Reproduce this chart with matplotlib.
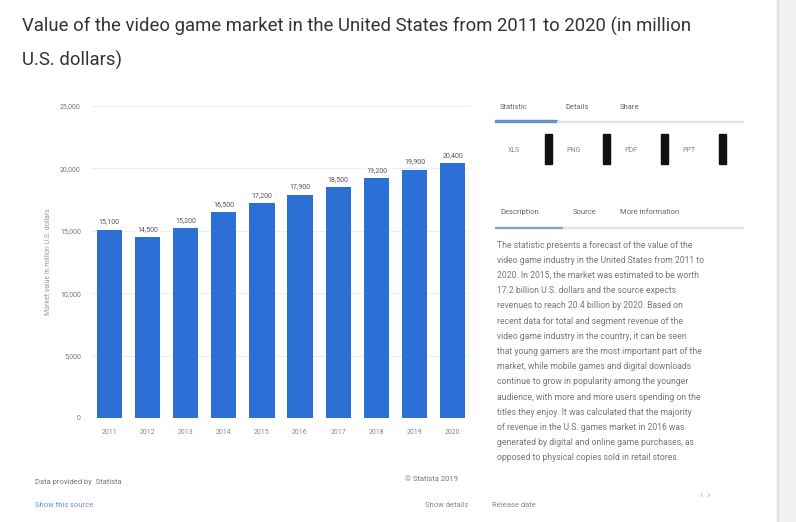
import matplotlib.pyplot as plt
from matplotlib.patches import Rectangle

years = ['2011', '2012', '2013', '2014', '2015', '2016', '2017', '2018', '2019', '2020']
values = [15100, 14500, 15200, 16500, 17200, 17900, 18500, 19200, 19900, 20400]
yticks = [0, 5000, 10000, 15000, 20000, 25000]

title = ("Value of the video game market in the United States from 2011 to 2020 (in million\n"
         "U.S. dollars)")
description = [
    "The statistic presents a forecast of the value of the",
    "video game industry in the United States from 2011 to",
    "2020. In 2015, the market was estimated to be worth",
    "17.2 billion U.S. dollars and the source expects",
    "revenues to reach 20.4 billion by 2020. Based on",
    "recent data for total and segment revenue of the",
    "video game industry in the country, it can be seen",
    "that young gamers are the most important part of the",
    "market, while mobile games and digital downloads",
    "continue to grow in popularity among the younger",
    "audience, with more and more users spending on the",
    "titles they enjoy. It was calculated that the majority",
    "of revenue in the U.S. games market in 2016 was",
    "generated by digital and online game purchases, as",
    "opposed to physical copies sold in retail stores.",
]

fig = plt.figure(figsize=(7.96, 5.22), dpi=100)
plt.rcParams['font.family'] = ['Roboto', 'DejaVu Sans']

# title
fig.text(22 / 796, 1 - 17 / 522, title, fontsize=13.3, color='#333333',
         va='top', ha='left', linespacing=1.95)

# chart
ax = fig.add_axes([92 / 796, 1 - 418 / 522, 378 / 796, 312 / 522])
ax.bar(range(len(years)), values, width=0.66, color='#2c70d5', zorder=3)
for i, v in enumerate(values):
    ax.text(i, v + 350, f"{v:,}", ha='center', va='bottom', fontsize=5,
            color='#555555', zorder=4,
            bbox=dict(boxstyle='square,pad=0.25', fc='white', ec='none'))
ax.set_xlim(-0.45, len(years) - 0.55)
ax.set_ylim(0, 25000)
ax.set_yticks(yticks)
ax.set_yticklabels([f"{t:,}" for t in yticks], fontsize=5, color='#777777')
ax.set_xticks(range(len(years)))
ax.set_xticklabels(years, fontsize=5, color='#888888')
ax.tick_params(length=0, pad=8)
ax.yaxis.grid(True, color='#eeeeee', lw=0.8, zorder=0)
for s in ax.spines.values():
    s.set_visible(False)
ax.set_ylabel("Market value in million U.S. dollars", fontsize=5, color='#999999',
              labelpad=6)

# right panel
def ft(x, y, s, **kw):
    fig.text(x / 796, 1 - y / 522, s, va='center', **kw)

ft(500, 107, "Statistic", fontsize=5.5, color='#666666')
ft(565, 107, "Details", fontsize=5.5, color='#666666')
ft(620, 107, "Share", fontsize=5.5, color='#666666')
fig.add_artist(Rectangle((495 / 796, 1 - 122 / 522), 62 / 796, 1.5 / 522,
                         transform=fig.transFigure, color='#6b8fc9'))
fig.add_artist(Rectangle((557 / 796, 1 - 121.5 / 522), 186 / 796, 0.8 / 522,
                         transform=fig.transFigure, color='#e3e3e3'))
for i, lab in enumerate(["XLS", "PNG", "PDF", "PPT"]):
    x0 = 505 + i * 58
    ft(x0 + 3, 150, lab, fontsize=5, color='#888888')
    fig.add_artist(Rectangle(((x0 + 40) / 796, 1 - 164 / 522), 7 / 796, 30 / 522,
                             transform=fig.transFigure, color='#111111'))

ft(500, 212, "Description", fontsize=5.5, color='#666666')
ft(573, 212, "Source", fontsize=5.5, color='#666666')
ft(620, 212, "More information", fontsize=5.5, color='#666666')
fig.add_artist(Rectangle((495 / 796, 1 - 228 / 522), 68 / 796, 1.5 / 522,
                         transform=fig.transFigure, color='#8aa1c9'))
fig.add_artist(Rectangle((563 / 796, 1 - 227.5 / 522), 180 / 796, 0.8 / 522,
                         transform=fig.transFigure, color='#e3e3e3'))
for i, line in enumerate(description):
    ft(497, 245 + i * 15.2, line, fontsize=6.2, color='#777777')

# footer
ft(35, 482, "Data provided by  Statista", fontsize=5.5, color='#777777')
ft(35, 505, "Show this source", fontsize=5.5, color='#6b8fc9')
ft(405, 479, "\u00a9 Statista 2019", fontsize=5.5, color='#777777')
ft(425, 505, "Show details", fontsize=5.5, color='#888888')
ft(492, 505, "Release date", fontsize=5.5, color='#888888')
ft(700, 495, "\u2039  \u203a", fontsize=7, color='#aaaaaa')

# scrollbar strip
fig.add_artist(Rectangle((778 / 796, 0), 18 / 796, 1, transform=fig.transFigure,
                         color='#f1f1f1'))
fig.add_artist(Rectangle((777 / 796, 0), 1 / 796, 1, transform=fig.transFigure,
                         color='#e0e0e0'))

fig.savefig('out.png', dpi=100)
